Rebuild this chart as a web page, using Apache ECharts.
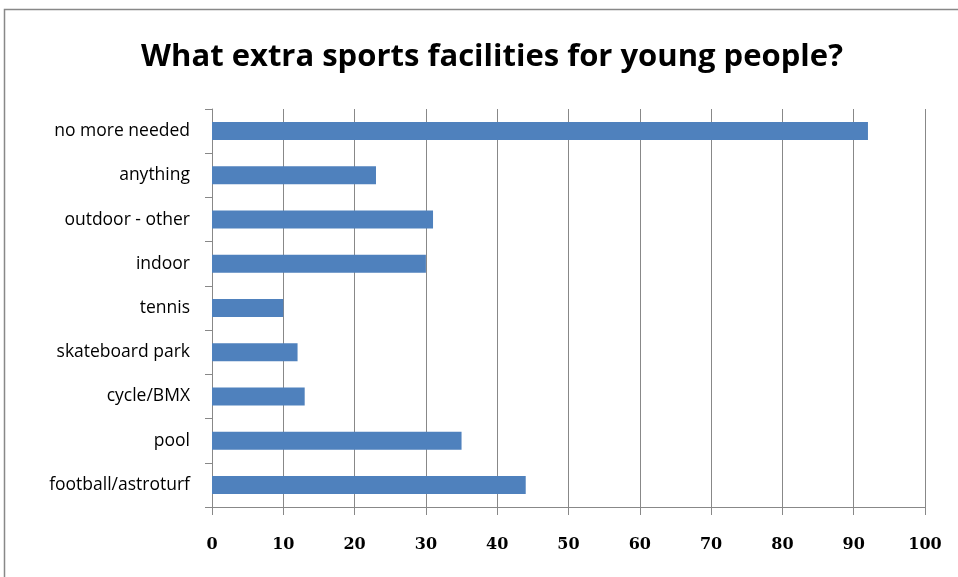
<!DOCTYPE html>
<html><head><meta charset="utf-8">
<script src="https://cdn.jsdelivr.net/npm/echarts@6/dist/echarts.min.js"></script>
<style>html,body{margin:0;padding:0;background:#fff}#c{width:958px;height:577px}</style>
</head><body><div id="c"></div>
<script>
const categories = ['football/astroturf','pool','cycle/BMX','skateboard park','tennis','indoor','outdoor - other','anything','no more needed'];
const values = [44, 35, 13, 12, 10, 30, 31, 23, 92];
const titleText = 'What extra sports facilities for young people?';

const chart = echarts.init(document.getElementById('c'));
chart.setOption({
  animation: false,
  backgroundColor: '#fff',
  title: {
    text: titleText, left: 487, top: 37, textAlign: 'center',
    textStyle: {fontFamily: 'Open Sans', fontWeight: 'bold', fontSize: 31, color: '#000'}
  },
  graphic: [{type: 'rect', shape: {x: 4.5, y: 9.5, width: 1000, height: 1000}, style: {fill: 'none', stroke: '#888', lineWidth: 1.5}, z: -1}],
  grid: {left: 212, right: 33, top: 109, bottom: 70, containLabel: false},
  xAxis: {
    type: 'value', min: 0, max: 100, interval: 10,
    axisLine: {show: true, lineStyle: {color: '#888'}},
    axisTick: {show: true, length: 8, lineStyle: {color: '#888'}},
    splitLine: {show: true, lineStyle: {color: '#888'}},
    axisLabel: {margin: 30, fontFamily: 'DejaVu Serif', fontWeight: 'bold', fontSize: 16, color: '#000'}
  },
  yAxis: {
    type: 'category', data: categories,
    axisLine: {show: true, lineStyle: {color: '#888'}},
    axisTick: {show: true, length: 7, lineStyle: {color: '#888'}},
    axisLabel: {margin: 22, fontFamily: 'Open Sans', fontSize: 17.5, color: '#000'}
  },
  series: [{
    type: 'bar', data: values, barWidth: 18,
    itemStyle: {color: '#4f81bd'}
  }]
});
</script></body></html>
